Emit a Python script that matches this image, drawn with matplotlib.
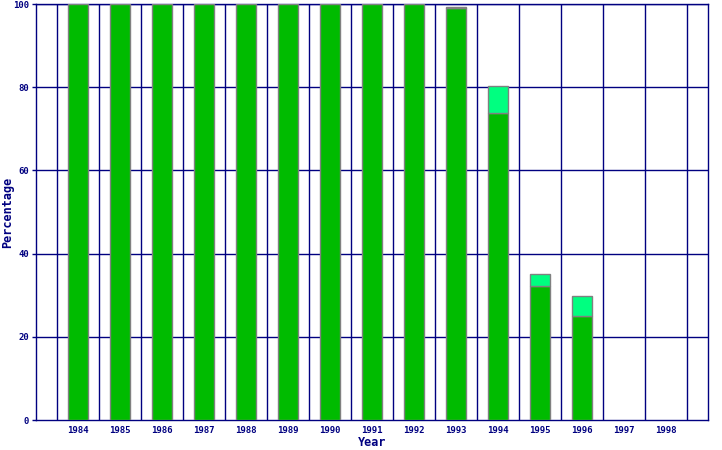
import matplotlib
matplotlib.use("Agg")
import matplotlib.pyplot as plt
import numpy as np

years = ["1984", "1985", "1986", "1987", "1988", "1989", "1990", "1991",
         "1992", "1993", "1994", "1995", "1996", "1997", "1998"]
lower = [100, 100, 100, 100, 100, 100, 100, 100, 100, 99.0, 73.7, 32.1, 24.9, 0, 0]
upper = [0, 0, 0, 0, 0, 0, 0, 0, 0, 0.3, 6.5, 2.9, 4.8, 0, 0]

navy = "#000080"

fig = plt.figure(figsize=(7.22, 4.5), dpi=100)
ax = fig.add_axes([36 / 722, 30 / 450, 672 / 722, 416 / 450])

x = np.arange(len(years))
lo = np.array(lower, dtype=float)
up = np.array(upper, dtype=float)
m1 = lo > 0
m2 = up > 0
ax.bar(x[m1], lo[m1], width=0.476, color="#00bb00", edgecolor="#808080", linewidth=1, zorder=3)
ax.bar(x[m2], up[m2], bottom=lo[m2], width=0.476, color="#00ff80", edgecolor="#808080",
       linewidth=1, zorder=3)

ax.set_xlim(-1, 15)
ax.set_ylim(0, 100)
ax.set_yticks(range(0, 101, 20))
ax.set_xticks(x)
ax.set_xticklabels(years)

# grid lines sit between the categories
for b in np.arange(-0.5, 15, 1):
    ax.axvline(b, color=navy, linewidth=1, zorder=1)
for v in range(20, 101, 20):
    ax.axhline(v, color=navy, linewidth=1, zorder=1)

for s in ax.spines.values():
    s.set_color(navy)
    s.set_linewidth(1)

font = dict(family="DejaVu Sans Mono", weight="bold", size=6.5)
ax.tick_params(axis="x", length=0, pad=4, colors=navy)
ax.tick_params(axis="y", length=3, width=1, pad=2, colors=navy)
for lab in ax.get_xticklabels() + ax.get_yticklabels():
    lab.set_fontproperties(font)
    lab.set_color(navy)

ax.set_xlabel("Year", color=navy, fontsize=8.5, fontweight="bold",
              family="DejaVu Sans Mono", va="center")
ax.set_ylabel("Percentage", color=navy, fontsize=8.5, fontweight="bold",
              family="DejaVu Sans Mono", va="center")
ax.xaxis.set_label_coords(0.5, -0.053)
ax.yaxis.set_label_coords(-0.042, 0.5)

fig.savefig("out.png", dpi=100)
